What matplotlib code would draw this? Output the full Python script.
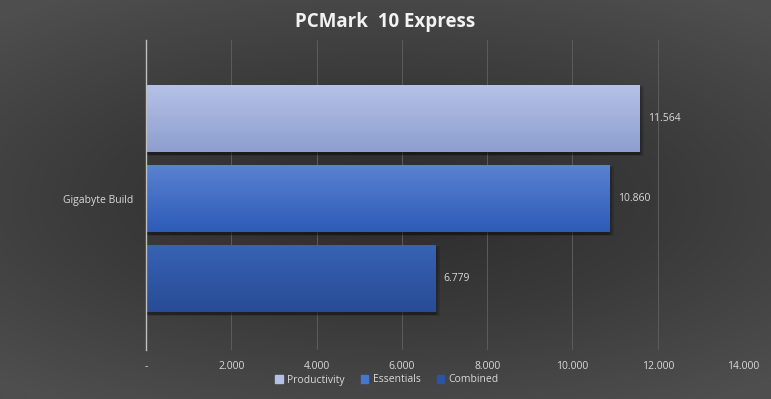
import numpy as np
import matplotlib
matplotlib.use("Agg")
import matplotlib.pyplot as plt
from matplotlib.colors import LinearSegmentedColormap

plt.rcParams['font.family'] = ['Open Sans', 'DejaVu Sans']

series = ["Productivity", "Essentials", "Combined"]
values = [11564, 10860, 6779]
value_labels = ["11.564", "10.860", "6.779"]
category = "Gigabyte Build"
xticks = [0, 2000, 4000, 6000, 8000, 10000, 12000, 14000]
xtick_labels = ["-", "2.000", "4.000", "6.000", "8.000", "10.000", "12.000", "14.000"]

# top/bottom colours of each bar gradient
grad_top = ["#b6c2e6", "#5b82d2", "#3862b4"]
grad_bot = ["#8d9ecf", "#2d5bb7", "#284c96"]
legend_cols = ["#b4c0e4", "#4677d0", "#2c54a6"]

fig = plt.figure(figsize=(7.71, 3.99), dpi=100)

# background: radial gradient
bg = fig.add_axes([0, 0, 1, 1], zorder=-10)
yy, xx = np.mgrid[0:1:400j, 0:1:772j]
r = np.sqrt(((xx - 0.5) / 0.75) ** 2 + ((yy - 0.5) / 0.6) ** 2)
r = np.clip(r, 0, 1)
bgcm = LinearSegmentedColormap.from_list("bg", ["#2b2b2b", "#3a3a3a", "#4e4e4e"])
bg.imshow(r, cmap=bgcm, aspect="auto", extent=[0, 1, 0, 1], vmin=0, vmax=1)
bg.axis("off")

ax = fig.add_axes([146 / 771, 1 - 350 / 399, (743 - 146) / 771, (350 - 40) / 399])
ax.patch.set_alpha(0)

ypos = np.arange(len(series))
h = 0.84
bars = ax.barh(ypos, values, height=h, color="none", zorder=3)
for i, b in enumerate(bars):
    # soft shadow
    for k, a in [(110, 0.12), (60, 0.18), (25, 0.22)]:
        ax.barh(ypos[i] + 0.03, values[i] + k, height=h + k / 4000, left=0,
                color="black", alpha=a, zorder=2, linewidth=0)
    cm = LinearSegmentedColormap.from_list("g%d" % i, [grad_top[i], grad_bot[i]])
    grad = np.linspace(0, 1, 100).reshape(-1, 1)
    im = ax.imshow(grad, cmap=cm, aspect="auto", zorder=3,
                   extent=[0, values[i], ypos[i] + h / 2, ypos[i] - h / 2])
    im.set_clip_path(b)
    ax.text(values[i] + 200, ypos[i], value_labels[i], color="#d9d9d9",
            fontsize=7.5, va="center", ha="left", zorder=4)

ax.set_xlim(0, 14000)
ax.set_ylim(2.89, -0.98)
ax.set_xticks(xticks)
ax.set_xticklabels(xtick_labels, color="#d9d9d9", fontsize=7.5)
ax.tick_params(axis="x", length=0, pad=8)
ax.set_yticks([1])
ax.set_yticklabels([category], color="#d9d9d9", fontsize=7.5)
ax.tick_params(axis="y", length=0, pad=9)
ax.grid(axis="x", color="#5c5c5c", linewidth=0.7, zorder=0)
for s in ["top", "right", "bottom"]:
    ax.spines[s].set_visible(False)
ax.spines["left"].set_color("#bfbfbf")
ax.spines["left"].set_linewidth(1)
ax.spines["left"].set_zorder(5)

fig.text(0.5, 1 - 22 / 399, "PCMark  10 Express", ha="center", va="center",
         color="#f2f2f2", fontsize=13.5, fontweight="bold")

handles = [plt.Rectangle((0, 0), 1, 1, color=c) for c in legend_cols]
fig.legend(handles, series, loc="center", bbox_to_anchor=(387 / 771, 1 - 380 / 399),
           ncol=3, frameon=False, fontsize=7.5, labelcolor="#d9d9d9",
           handlelength=0.7, handleheight=0.7, handletextpad=0.4, columnspacing=1.6)

fig.savefig("out.png", dpi=100)
